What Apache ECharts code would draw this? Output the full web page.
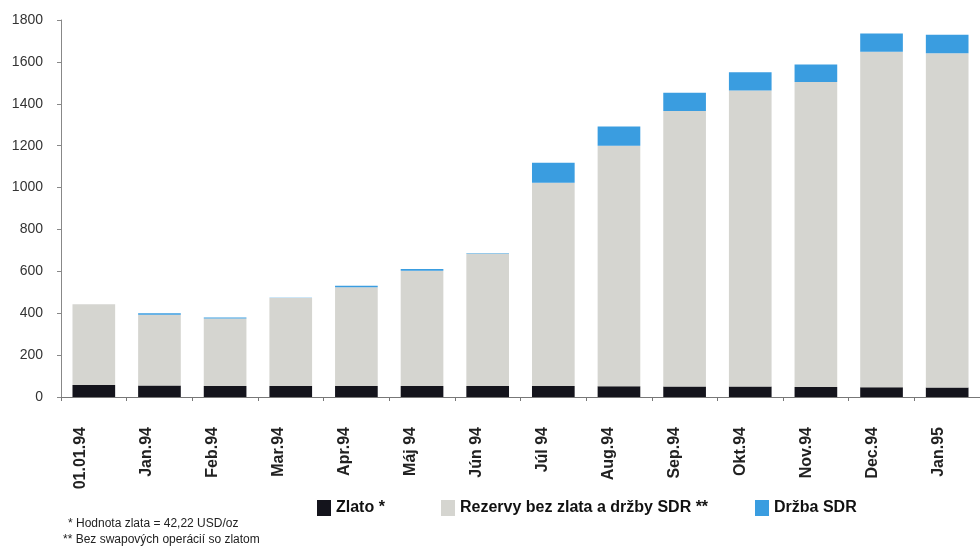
<!DOCTYPE html>
<html><head><meta charset="utf-8">
<script src="https://cdn.jsdelivr.net/npm/echarts@6/dist/echarts.min.js"></script>
<style>html,body{margin:0;padding:0;background:#fff}#c{width:980px;height:547px}</style>
</head><body><div id="c"></div>
<script>
const categories = ['01.01.94','Jan.94','Feb.94','Mar.94','Apr.94','Máj 94','Jún 94','Júl 94','Aug.94','Sep.94','Okt.94','Nov.94','Dec.94','Jan.95'];
const zlato = [57, 55, 52, 52, 52, 52, 52, 52, 51, 50, 50, 48, 46, 45];
const rezervy = [386, 338, 323, 421, 472, 551, 632, 971, 1149, 1316, 1413, 1456, 1602, 1596];
const drzbaSDR = [0, 7, 5, 1, 7, 8, 2, 96, 91, 87, 87, 83, 87, 89];
const yTicks = [0, 200, 400, 600, 800, 1000, 1200, 1400, 1600, 1800];

const chart = echarts.init(document.getElementById('c'));
const legendText = {fontFamily:'Liberation Sans, Arial, sans-serif', fontWeight:'bold', fontSize:16, color:'#111'};
const legendBase = {padding:0, top:500, itemWidth:14, itemHeight:16, icon:'rect', itemGap:0, textStyle:legendText, selectedMode:false};
const yMin = yTicks[0], yMax = yTicks[yTicks.length-1];
chart.setOption({
  animation:false,
  grid:[
    {left:61, top:20, width:924, height:377, containLabel:false},
    {left:48, top:20, width:924, height:377, containLabel:false}
  ],
  legend:[
    Object.assign({data:['Zlato *'], left:317}, legendBase),
    Object.assign({data:['Rezervy bez zlata a držby SDR **'], left:441}, legendBase),
    Object.assign({data:['Držba SDR'], left:755}, legendBase)
  ],
  xAxis:[
    {type:'category', data:categories, gridIndex:0,
      axisLine:{lineStyle:{color:'#777', width:1}},
      axisTick:{show:true, length:4, lineStyle:{color:'#777'}},
      axisLabel:{show:false}
    },
    {type:'category', data:categories, gridIndex:1,
      axisLine:{show:false}, axisTick:{show:false},
      axisLabel:{rotate:90, margin:30, fontFamily:'Liberation Sans, Arial, sans-serif', fontWeight:'bold', fontSize:16, color:'#222'}
    }
  ],
  yAxis:[
    {type:'value', gridIndex:0, min:yMin, max:yMax, interval:200,
      splitLine:{show:false},
      axisLine:{show:true, lineStyle:{color:'#888', width:1}},
      axisTick:{show:true, length:4, lineStyle:{color:'#888'}},
      axisLabel:{margin:18, fontFamily:'Liberation Sans, Arial, sans-serif', fontSize:14, color:'#333', formatter:v => String(v)}
    },
    {type:'value', gridIndex:1, min:yMin, max:yMax, show:false}
  ],
  series:[
    {name:'Zlato *', type:'bar', stack:'a', data:zlato, barWidth:'65%', itemStyle:{color:'#14141c'}},
    {name:'Rezervy bez zlata a držby SDR **', type:'bar', stack:'a', data:rezervy, barWidth:'65%', itemStyle:{color:'#d5d5d0'}},
    {name:'Držba SDR', type:'bar', stack:'a', data:drzbaSDR, barWidth:'65%', itemStyle:{color:'#3a9de0'}}
  ],
  graphic:[
    {type:'text', left:68, top:518, style:{text:'* Hodnota zlata = 42,22 USD/oz', font:'12px "Liberation Sans", Arial, sans-serif', fill:'#222'}},
    {type:'text', left:63, top:534, style:{text:'** Bez swapových operácií so zlatom', font:'12px "Liberation Sans", Arial, sans-serif', fill:'#222'}}
  ]
});
</script></body></html>
